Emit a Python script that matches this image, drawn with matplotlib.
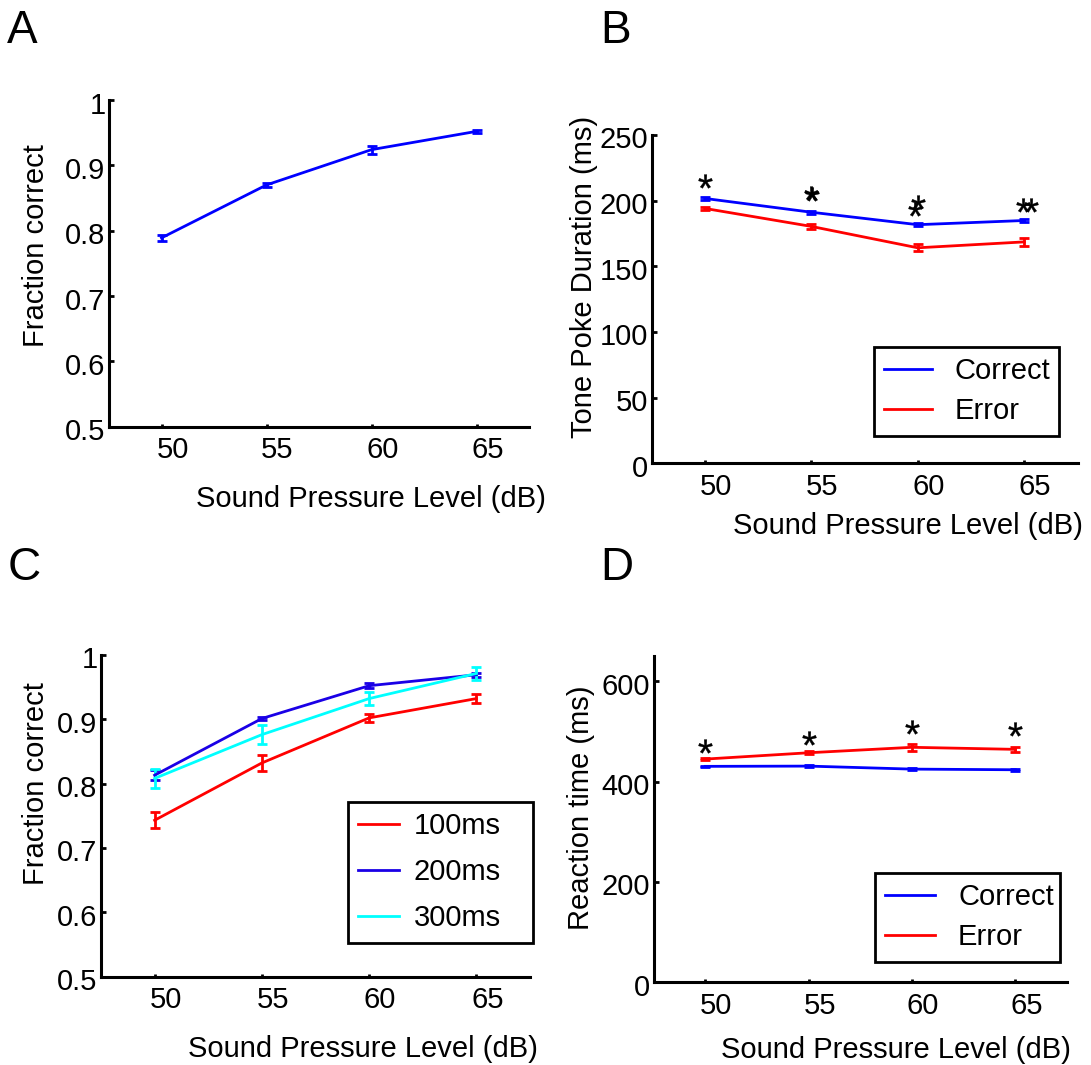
import matplotlib
matplotlib.use("Agg")
import matplotlib.pyplot as plt
import matplotlib.transforms as mtransforms
from matplotlib.lines import Line2D

plt.rcParams['font.family'] = ['Liberation Sans', 'DejaVu Sans']

W, H = 1091, 1065
FS = 21

spl = [50, 55, 60, 65]

# A
a_frac = [0.789, 0.870, 0.924, 0.952]
a_err = [0.005, 0.0033, 0.006, 0.002]

# B
b_correct = [201.7, 191.2, 181.7, 184.9]
b_correct_err = [1.2, 1.0, 1.2, 1.0]
b_error = [194.1, 180.4, 164.1, 168.6]
b_error_err = [1.35, 1.9, 2.6, 2.8]
b_star_x = [50, 55, 60, 64.95]
b_star_y = [215.3, 205.7, 199.2, 196.8]
b_star2_x = [55.05, 59.85, 65.3]
b_star2_y = [205.0, 193.4, 196.8]

# C
c_labels = ['100ms', '200ms', '300ms']
c_100 = [0.743, 0.832, 0.902, 0.932]
c_100_err = [0.0125, 0.0125, 0.006, 0.0075]
c_200 = [0.813, 0.901, 0.952, 0.969]
c_200_err = [0.0078, 0.0024, 0.0043, 0.003]
c_300 = [0.808, 0.876, 0.932, 0.971]
c_300_err = [0.015, 0.015, 0.010, 0.0103]

# D
d_correct = [430.5, 431.0, 425.0, 423.7]
d_correct_err = [1.5, 1.5, 1.5, 1.5]
d_error = [445.0, 457.6, 468.5, 464.4]
d_error_err = [1.8, 2.8, 6.5, 5.5]
d_star_y = [471, 488, 508, 505]

BLUE = '#0000ff'
RED = '#ff0000'
CYAN = '#00ffff'
DBLUE = '#1a00e6'


def fx(px):
    return px / W


def fy(py):
    return 1 - py / H


def make_ax(left, top, right, bottom):
    ax = fig.add_axes([fx(left), fy(bottom), (right - left) / W, (bottom - top) / H])
    ax.spines['top'].set_visible(False)
    ax.spines['right'].set_visible(False)
    ax.spines['left'].set_linewidth(2.2)
    ax.spines['bottom'].set_linewidth(2.2)
    ax.set_xlim(47.5, 67.5)
    ax.set_xticks(spl)
    ax.tick_params(axis='y', direction='in', length=3.5, width=2, pad=2.5, labelsize=FS)
    ax.tick_params(axis='x', direction='in', length=2.5, width=2, pad=7, labelsize=FS)
    ax.patch.set_alpha(0)
    return ax


def shift_labels(ax):
    dx = mtransforms.ScaledTranslation(11 / 100, 0, fig.dpi_scale_trans)
    for lab in ax.get_xticklabels():
        lab.set_transform(lab.get_transform() + dx)
    dy = mtransforms.ScaledTranslation(0, -2.5 / 100, fig.dpi_scale_trans)
    for lab in ax.get_yticklabels():
        lab.set_transform(lab.get_transform() + dy)


def eb(ax, y, err, color):
    return ax.errorbar(spl, y, yerr=err, color=color, lw=2, elinewidth=2,
                       capsize=3.6, capthick=2)


def stars(ax, x, y):
    ax.plot(x, y, ls='none', marker=r'$\mathregular{*}$', ms=10, mew=0.3, color='k')


def labels(xstart, xbase, ycx, ycy, ytext):
    fig.text(fx(xstart), fy(xbase), 'Sound Pressure Level (dB)', fontsize=FS,
             ha='left', va='baseline')
    fig.text(fx(ycx), fy(ycy), ytext, fontsize=FS, rotation=90,
             ha='center', va='center')


def legend(ax, handles, names, left, top, right, ls, hl, htp):
    leg = ax.legend(handles, names, loc='upper left', mode='expand',
                    bbox_to_anchor=(fx(left), fy(top), (right - left) / W, 0),
                    bbox_transform=fig.transFigure,
                    borderaxespad=0, fontsize=FS, frameon=True, fancybox=False,
                    framealpha=1, edgecolor='black', labelspacing=ls,
                    handlelength=hl, handletextpad=htp, borderpad=0.35)
    leg.get_frame().set_linewidth(2)
    return leg


fig = plt.figure(figsize=(W / 100, H / 100), dpi=100)

# ---- A
ax = make_ax(109, 100, 529, 426.7)
eb(ax, a_frac, a_err, BLUE)
ax.set_ylim(0.5, 1)
ax.set_yticks([0.5, 0.6, 0.7, 0.8, 0.9, 1.0])
ax.set_yticklabels(['0.5', '0.6', '0.7', '0.8', '0.9', '1'])
shift_labels(ax)
labels(196, 507, 36, 246, 'Fraction correct')
fig.text(fx(7), fy(43.5), 'A', fontsize=33, ha='left', va='baseline')

# ---- B
ax = make_ax(651.5, 135, 1077.5, 463.3)
eb(ax, b_correct, b_correct_err, BLUE)
eb(ax, b_error, b_error_err, RED)
stars(ax, b_star_x, b_star_y)
stars(ax, b_star2_x, b_star2_y)
ax.set_ylim(0, 250)
ax.set_yticks([0, 50, 100, 150, 200, 250])
shift_labels(ax)
labels(733, 534.5, 584, 277, 'Tone Poke Duration (ms)')
legend(ax, [Line2D([], [], color=BLUE, lw=2), Line2D([], [], color=RED, lw=2)],
       ['Correct', 'Error'], 874, 347, 1059, 0.42, 1.65, 0.75)
fig.text(fx(600), fy(43.5), 'B', fontsize=33, ha='left', va='baseline')

# ---- C
ax = make_ax(101, 654.8, 530, 976.7)
eb(ax, c_100, c_100_err, RED)
eb(ax, c_200, c_200_err, DBLUE)
eb(ax, c_300, c_300_err, CYAN)
ax.set_ylim(0.5, 1)
ax.set_yticks([0.5, 0.6, 0.7, 0.8, 0.9, 1.0])
ax.set_yticklabels(['0.5', '0.6', '0.7', '0.8', '0.9', '1'])
shift_labels(ax)
labels(188, 1057, 36, 784, 'Fraction correct')
legend(ax, [Line2D([], [], color=c, lw=2) for c in (RED, DBLUE, CYAN)],
       c_labels, 348, 802, 533, 0.62, 1.4, 0.5)
fig.text(fx(8), fy(579.5), 'C', fontsize=33, ha='left', va='baseline')

# ---- D
ax = make_ax(653.5, 656.3, 1067, 982.2)
eb(ax, d_correct, d_correct_err, BLUE)
eb(ax, d_error, d_error_err, RED)
stars(ax, spl, d_star_y)
ax.set_ylim(0, 650)
ax.set_yticks([0, 200, 400, 600])
shift_labels(ax)
labels(721, 1058, 581, 808, 'Reaction time (ms)')
legend(ax, [Line2D([], [], color=BLUE, lw=2), Line2D([], [], color=RED, lw=2)],
       ['Correct', 'Error'], 875, 873, 1060, 0.42, 1.7, 0.8)
fig.text(fx(600), fy(579.5), 'D', fontsize=33, ha='left', va='baseline')

fig.savefig('out.png', dpi=100)
